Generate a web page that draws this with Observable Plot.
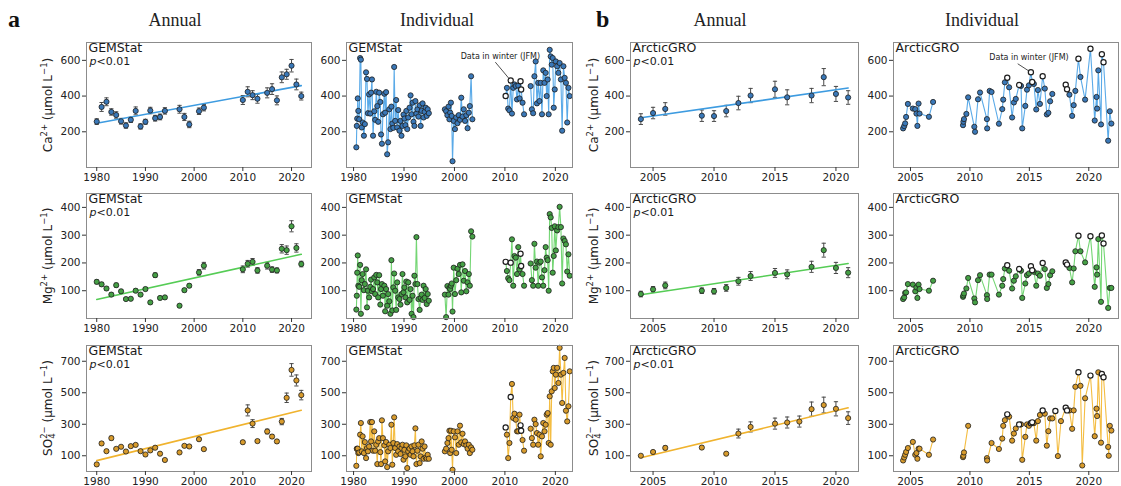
<!DOCTYPE html>
<html><head><meta charset="utf-8">
<script src="https://cdn.jsdelivr.net/npm/d3@7"></script>
<script src="https://cdn.jsdelivr.net/npm/@observablehq/plot@0.6"></script>
<style>
html,body{margin:0;padding:0;background:#fff;}
#fig{position:relative;width:1121px;height:486px;overflow:hidden;font-family:"DejaVu Sans",sans-serif;}
.pn{position:absolute;}
.hdr{position:absolute;font-family:"Liberation Serif",serif;font-size:18px;color:#222;transform:translateX(-50%);white-space:nowrap;}
.lett{position:absolute;font-family:"Liberation Serif",serif;font-weight:bold;font-size:24px;color:#111;}
.ylab{position:absolute;font-family:"DejaVu Sans",sans-serif;font-size:12px;color:#222;transform:translate(-50%,-50%) rotate(-90deg);white-space:nowrap;line-height:14px;}
.ylab sup{font-size:8.5px;vertical-align:5px;line-height:0;}
.ss{display:inline-block;font-size:8.5px;line-height:8px;vertical-align:-3px;text-align:left;}
</style></head>
<body><div id="fig"></div>
<script>
// ---------------- DATA ----------------
// GEMStat annual means
const gemYears = [1980,1981,1982,1983,1984,1985,1986,1987,1988,1989,1990,1991,1992,1993,1994,1997,1998,1999,2001,2002,2010,2011,2012,2013,2015,2016,2017,2018,2019,2020,2021,2022];
const gemCaAnnual = [257,339,368,311,294,259,235,267,317,230,256,319,276,283,317,326,283,241,315,335,378,424,405,385,418,439,376,505,522,570,465,400];
const gemCaErr    = [16,25,22,18,18,16,15,15,22,15,14,18,16,16,18,22,20,18,18,18,25,28,25,25,28,30,25,30,28,35,30,22];
const gemMgAnnual = [132,123,108,86,120,98,70,71,100,86,106,58,156,74,76,46,102,118,166,190,177,197,204,173,190,176,173,251,246,332,254,196];
const gemMgErr    = [7,7,6,6,7,6,5,5,6,5,6,5,8,5,5,4,6,6,10,12,12,12,12,10,12,10,9,15,15,20,15,10];
const gemSO4Annual= [45,178,129,212,144,157,127,161,169,129,108,134,151,113,73,121,163,159,205,142,186,388,304,193,254,222,191,317,468,645,578,485];
const gemSO4Err   = [8,10,8,12,8,8,8,8,8,8,8,8,8,8,6,6,8,8,10,8,10,35,25,10,15,12,10,20,30,40,35,30];

// ArcticGRO annual means
const agroYears = [2004,2005,2006,2009,2010,2011,2012,2013,2015,2016,2018,2019,2020,2021];
const agroCaAnnual = [271,305,328,290,288,316,361,403,438,393,403,506,412,392];
const agroCaErr    = [30,32,35,32,30,32,38,40,45,42,40,48,42,38];
const agroMgAnnual = [88,105,119,100,98,110,134,153,164,159,186,246,182,165];
const agroMgErr    = [10,10,12,10,10,12,14,16,16,16,20,25,20,18];
const agroSO4Years = [2004,2005,2006,2009,2011,2012,2013,2015,2016,2017,2018,2019,2020,2021];
const agroSO4Annual= [100,124,150,152,113,241,283,304,311,317,396,422,398,339];
const agroSO4Err   = [5,8,12,10,5,28,32,35,35,35,45,50,45,40];

// GEMStat individual samples
const gemDates = [
 1980.55,1980.64,1980.72,1980.83,1980.94, 1981.12,1981.3,1981.45,1981.62,1981.8,
 1982.05,1982.24,1982.48,1982.66,1982.85, 1983.08,1983.3,1983.47,1983.65,1983.86,
 1984.1,1984.28,1984.5,1984.7,1984.88, 1985.08,1985.3,1985.45,1985.62,1985.82,
 1986.1,1986.26,1986.45,1986.66,1986.85, 1987.08,1987.3,1987.5,1987.68,1987.88,
 1988.05,1988.25,1988.45,1988.65,1988.85, 1989.1,1989.3,1989.5,1989.7,1989.9,
 1990.08,1990.28,1990.46,1990.64,1990.84, 1991.1,1991.3,1991.5,1991.7,1991.88,
 1992.06,1992.26,1992.46,1992.66,1992.86, 1993.1,1993.3,1993.5,1993.68,1993.88,
 1994.08,1994.3,1994.5,1994.7,1994.92,
 1998.1,1998.35,1998.6,1998.82, 1999.0,1999.15,1999.3,1999.45,1999.62,1999.85,
 2000.1,2000.35,2000.6,2000.85, 2001.1,2001.35,2001.6,2001.85, 2002.1,2002.35,2002.6,2002.85,
 2003.05,2003.3,2003.55,
 2010.15,2010.4,2010.65,2010.9, 2011.15,2011.4,2011.65,2011.9, 2012.15,2012.4,2012.65,2012.9,
 2013.1,2013.22,2013.5,2013.8,
 2015.1,2015.35,2015.6,2015.85, 2016.1,2016.35,2016.6,2016.85, 2017.1,2017.35,2017.6,2017.85,
 2018.08,2018.28,2018.48,2018.68,2018.88, 2019.08,2019.28,2019.48,2019.68,2019.88,
 2020.1,2020.35,2020.6,2020.85, 2021.1,2021.35,2021.6,2021.85, 2022.1,2022.35,2022.6,2022.85];
const gemWinterDates = [2010.15,2011.15,2013.1,2013.22];
const gemCaInd = [
 113,233,274,387,317, 270,613,604,224,252, 178,243,533,496,304, 409,302,419,493,178,
 315,267,424,344,256, 419,367,185,133,298, 413,307,422,74,141, 326,215,341,246,222,
 563,261,378,224,322, 206,261,178,233,296, 274,237,317,215,280, 335,404,298,363,256,
 233,372,302,326,285, 348,233,317,359,280, 311,335,289,326,304,
 326,315,293,341, 270,307,363,289,35,261, 215,280,248,293, 267,391,285,326, 261,293,220,307, 344,511,270,
 400,446,330,320, 487,302,446,465, 456,381,459,387, 483,437,363,298,
 456,326,304,511, 594,359,474,372, 474,298,544,474,
 530,400,493,298,659, 622,576,613,335,437, 594,567,530,585, 493,206,567,502, 474,252,446,400];
const gemMgInd = [
 32,82,165,227,118, 114,193,17,138,160, 102,124,177,40,100, 76,114,140,98,106,
 148,88,157,130,76, 156,50,106,124,82, 118,26,106,46,88, 62,17,210,29,112,
 162,100,31,130,76, 70,50,88,160,94, 112,76,133,58,130, 67,106,17,82,5,
 154,124,293,124,70, 31,74,86,67,118, 74,106,52,88,64,
 86,5,117,86, 110,106,118,126,25,183, 88,138,179,160, 193,94,195,136, 171,98,130,160, 118,314,295,
 204,171,145,138, 201,285,118,225, 219,160,257,177, 233,189,160,118,
 198,138,118,269, 183,205,118,201, 205,148,118,174,
 257,219,210,100,376, 364,326,165,225,332, 245,317,329,402, 329,126,288,279, 267,169,231,154];
const gemSO4Ind = [
 36,145,142,145,117, 121,234,308,128,223, 117,187,85,149,128, 159,314,191,314,132,
 255,132,170,47,191, 212,123,47,325,212, 166,64,187,28,128, 170,149,297,43,181,
 344,149,106,174,128, 159,111,149,170,75, 138,96,166,22,128, 145,106,159,128,96,
 166,274,47,132,170, 53,96,191,145,81, 159,89,81,106,81,
 128,145,181,212, 259,117,259,138,11,255, 217,117,255,170, 291,185,240,174, 191,166,145,170, 117,153,138,
 280,234,85,181, 473,556,340,367, 329,255,255,361, 293,259,200,132,
 272,212,170,329, 301,244,170,234, 96,223,308,255,
 297,361,371,181,477, 170,509,636,658,530, 615,658,562,785, 615,435,626,721, 386,318,414,636];

// ArcticGRO individual samples
const agroDates = [
 2004.38,2004.47,2004.55,2004.63,2004.78, 2005.2,2005.4,2005.5,2005.58,2005.68,2005.76, 2006.55,2006.9,
 2009.42,2009.45,2009.5,2009.7,2009.85, 2010.37,2010.43,2010.68,2010.85, 2011.43,2011.45,2011.66,2011.82,
 2012.44,2012.72,2012.8,2012.94, 2013.14,2013.3,2013.55,2013.7,2013.86, 2014.14,2014.3,2014.4,2014.66,2014.8,2014.96,
 2015.13,2015.24,2015.38,2015.58,2015.72,2015.89, 2016.12,2016.3,2016.47,2016.6,2016.75,2016.93,
 2017.19,2017.4,2017.66, 2018.06,2018.17,2018.37,2018.6,2018.73,2018.87, 2019.13,2019.3,2019.45,2019.69,
 2020.14,2020.5,2020.65,2020.7,2020.8, 2021.03,2021.1,2021.24,2021.63,2021.68,2021.77,2021.9];
const agroWinterDates = [2013.14,2014.14,2015.13,2015.24,2016.12,2017.19,2018.06,2018.17,2019.13,2020.14,2021.1,2021.24];
const agroCaInd = [
 219,232,247,283,356, 330,327,302,233,358,302, 284,367,
 237,256,271,300,393, 228,200,382,420, 271,219,429,423,
 245,327,380,477, 503,449,280,364,384, 462,457,219,345,436,460,
 533,479,468,325,434,356, 511,442,297,306,371,412,
 null,null,null, 464,438,408,289,349,429, 609,507,null,380,
 665,263,395,330,544, 241,634,589,150,null,315,246];
const agroMgInd = [
 70,76,92,94,124, 122,98,112,74,122,106, 100,136,
 78,83,90,108,146, 72,58,138,156, 84,70,158,158,
 86,118,142,180, 192,172,108,136,152, 178,172,74,126,156,162,
 188,174,168,118,162,154, 200,178,110,124,156,170,
 null,null,null, 202,194,182,130,180,242, 298,242,null,202,
 296,114,184,158,286, 60,299,270,38,null,110,110];
const agroSO4Ind = [
 70,89,106,124,149, 188,106,117,81,145,145, 106,203,
 91,100,121,null,290, null,null,null,null, 85,70,null,181,
 143,209,290,326, 363,348,196,241,273, 299,299,74,220,299,290,
 307,312,307,196,320,359, 388,367,164,256,337,337,
 384,98,320, 405,388,388,271,388,538, 630,544,38,465,
 609,224,399,352,630, 183,619,598,156,100,290,260];

// tick values
const gemXTicks = [1980,1990,2000,2010,2020];
const agroXTicks = [2005,2010,2015,2020];
const caTicks = [200,400,600], mgTicks = [100,200,300,400], so4Ticks = [100,300,500,700];
const noteText = "Data in winter (JFM)";

// ---------------- LAYOUT / STYLE ----------------
const cols = [{left:86,w:225,dom:[1977.9,2024.1]},{left:346,w:226,dom:[1978.6,2023.4]},
              {left:630,w:228,dom:[2003.15,2021.85]},{left:893,w:225,dom:[2003.57,2022.5]}];
const rows = [{top:42,h:125,dom:[0,700],ticks:caTicks},{top:193,h:125,dom:[0,450],ticks:mgTicks},{top:345,h:126,dom:[0,800],ticks:so4Ticks}];
const palette = [
  {point:"#3a78b8", line:"#3d9be0", iline:"#5aaae8"},
  {point:"#45a045", line:"#55cc55", iline:"#74d674"},
  {point:"#d89b2c", line:"#f0b32e", iline:"#f4bd42"}];
const mL=34, mR=4, mT=4, mB=20;
const cap = {draw(ctx, size){ const w = Math.sqrt(size); ctx.moveTo(-w,0); ctx.lineTo(w,0);} };

function annualData(years, vals, errs){
  return years.map((y,i)=>({year:y, v:vals[i], lo:vals[i]-errs[i], hi:vals[i]+errs[i]}));
}
function indivData(dates, vals, winterDates){
  const out=[]; let seg=0, prev=null;
  dates.forEach((d,i)=>{ const v=vals[i]; if(v==null) return;
    if(prev!=null && d-prev>1) seg++; prev=d;
    out.push({date:d, v, seg, winter:winterDates.includes(d)}); });
  return out;
}
function labelMarks(name, showP){
  const m=[Plot.text([name],{text:d=>d, frameAnchor:"top-left", dx:2, dy:0.5, lineAnchor:"top", textAnchor:"start", fontSize:12.5, fill:"#1a1a1a"})];
  if(showP){
    m.push(Plot.text(["p"],{text:d=>d, frameAnchor:"top-left", dx:3, dy:15, lineAnchor:"top", textAnchor:"start", fontSize:11, fontStyle:"italic", fill:"#1a1a1a"}));
    m.push(Plot.text(["<0.01"],{text:d=>d, frameAnchor:"top-left", dx:10, dy:15, lineAnchor:"top", textAnchor:"start", fontSize:11, fill:"#1a1a1a"}));
  }
  return m;
}
function annualMarks(data, c){
  return [
    Plot.ruleX(data,{x:"year", y1:"lo", y2:"hi", stroke:"#4a4a4a", strokeWidth:1}),
    Plot.dot(data,{x:"year", y:"lo", symbol:cap, r:1.2, stroke:"#4a4a4a", fill:"none", strokeWidth:1}),
    Plot.dot(data,{x:"year", y:"hi", symbol:cap, r:1.2, stroke:"#4a4a4a", fill:"none", strokeWidth:1}),
    Plot.linearRegressionY(data,{x:"year", y:"v", stroke:c.line, strokeWidth:1.6, ci:0}),
    Plot.dot(data,{x:"year", y:"v", r:2.6, fill:c.point, stroke:"#1e1e1e", strokeWidth:0.8})
  ];
}
function indivMarks(data, c, note){
  const m=[Plot.line(data,{x:"date", y:"v", z:"seg", stroke:c.iline, strokeWidth:1.1})];
  if(note){
    const t = data.find(d=>d.date===note.target);
    m.push(Plot.link([note],{x1:"lx", y1:"ly", x2:()=>t.date, y2:()=>t.v, stroke:"#222", strokeWidth:0.8}));
  }
  m.push(Plot.dot(data,{filter:d=>!d.winter, x:"date", y:"v", r:2.6, fill:c.point, stroke:"#1e1e1e", strokeWidth:0.8}));
  m.push(Plot.dot(data,{filter:d=>d.winter, x:"date", y:"v", r:2.6, fill:"#fff", stroke:"#1e1e1e", strokeWidth:1.2}));
  if(note) m.push(Plot.text([note],{x:"x", y:"y", text:"label", fontSize:8, fill:"#222"}));
  return m;
}
function panel(ci, ri, xTicks, marks){
  const c=cols[ci], r=rows[ri];
  const chart = Plot.plot({
    width:c.w+mL+mR, height:r.h+mT+mB, marginLeft:mL, marginRight:mR, marginTop:mT, marginBottom:mB,
    x:{domain:c.dom}, y:{domain:r.dom},
    style:{background:"transparent", fontFamily:"DejaVu Sans", fontSize:"10.5px", color:"#222", overflow:"visible"},
    marks:[
      ...marks,
      Plot.frame({stroke:"#8c8c8c", strokeWidth:1}),
      Plot.axisX({ticks:xTicks, tickFormat:"d", tickSize:4, tickPadding:2, label:null, stroke:"#333"}),
      Plot.axisY({ticks:r.ticks, tickSize:4, tickPadding:2, label:null, stroke:"#333"})
    ]
  });
  chart.classList.add("pn");
  chart.style.left=(c.left-mL)+"px"; chart.style.top=(r.top-mT)+"px";
  document.getElementById("fig").appendChild(chart);
}

const gemAnnual = [annualData(gemYears,gemCaAnnual,gemCaErr), annualData(gemYears,gemMgAnnual,gemMgErr), annualData(gemYears,gemSO4Annual,gemSO4Err)];
const agroAnnual = [annualData(agroYears,agroCaAnnual,agroCaErr), annualData(agroYears,agroMgAnnual,agroMgErr), annualData(agroSO4Years,agroSO4Annual,agroSO4Err)];
const gemInd = [indivData(gemDates,gemCaInd,gemWinterDates), indivData(gemDates,gemMgInd,gemWinterDates), indivData(gemDates,gemSO4Ind,gemWinterDates)];
const agroInd = [indivData(agroDates,agroCaInd,agroWinterDates), indivData(agroDates,agroMgInd,agroWinterDates), indivData(agroDates,agroSO4Ind,agroWinterDates)];
const gemNote = {label:noteText, x:2009.1, y:622, lx:2008.1, ly:590, target:2011.15};
const agroNote = {label:noteText, x:2014.97, y:614, lx:2014.02, ly:581, target:2015.13};

for(let r=0;r<3;r++){
  panel(0,r,gemXTicks,[...annualMarks(gemAnnual[r],palette[r]), ...labelMarks("GEMStat",true)]);
  panel(1,r,gemXTicks,[...indivMarks(gemInd[r],palette[r], r===0?gemNote:null), ...labelMarks("GEMStat",false)]);
  panel(2,r,agroXTicks,[...annualMarks(agroAnnual[r],palette[r]), ...labelMarks("ArcticGRO",true)]);
  panel(3,r,agroXTicks,[...indivMarks(agroInd[r],palette[r], r===0?agroNote:null), ...labelMarks("ArcticGRO",false)]);
}

// headers and y labels (HTML text)
const fig=document.getElementById("fig");
function addDiv(cls, html, left, top){ const d=document.createElement("div"); d.className=cls; d.innerHTML=html; d.style.left=left+"px"; d.style.top=top+"px"; fig.appendChild(d); }
addDiv("lett","a",8,6); addDiv("lett","b",596,6);
addDiv("hdr","Annual",175,10); addDiv("hdr","Individual",437,10);
addDiv("hdr","Annual",720,10); addDiv("hdr","Individual",982,10);
const unit=' (μmol L<sup>−1</sup>)';
const yl=['Ca<sup>2+</sup>'+unit,'Mg<sup>2+</sup>'+unit,'SO<span class="ss">2−<br>4</span>'+unit];
rows.forEach((r,i)=>{ addDiv("ylab",yl[i],48,r.top+r.h/2); addDiv("ylab",yl[i],594,r.top+r.h/2); });
</script></body></html>
